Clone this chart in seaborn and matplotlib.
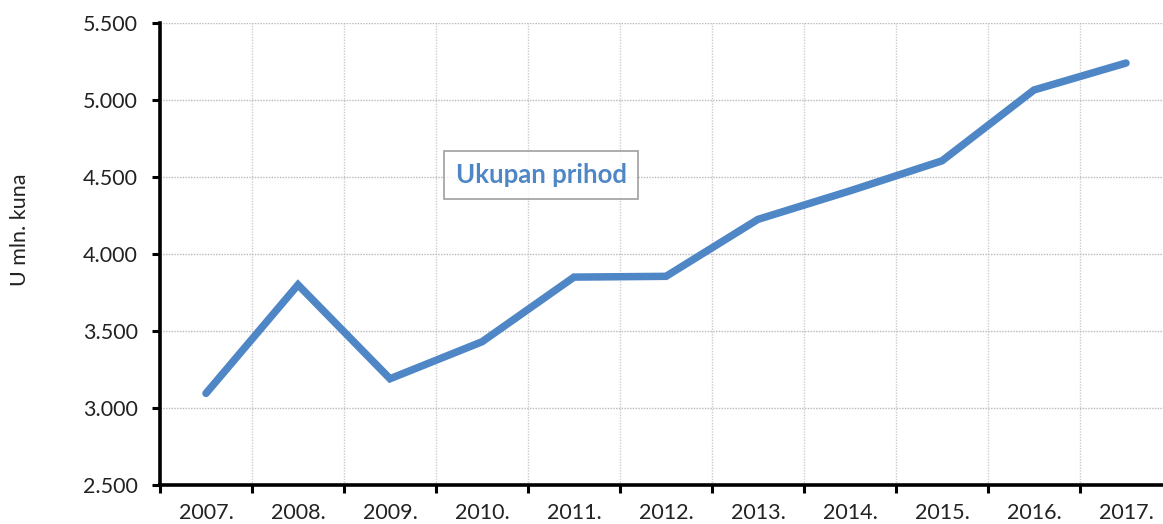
import numpy as np
import pandas as pd
import seaborn as sns
import matplotlib
matplotlib.use("Agg")
import matplotlib.pyplot as plt
from matplotlib.ticker import FuncFormatter, FixedLocator

# data
years = ["2007.", "2008.", "2009.", "2010.", "2011.", "2012.",
         "2013.", "2014.", "2015.", "2016.", "2017."]
prihod = [3095, 3800, 3190, 3430, 3850, 3855, 4225, 4410, 4605, 5065, 5240]
series_name = "Ukupan prihod"
y_label = "U mln. kuna"

line_color = "#4F86C6"

sns.set_theme(style="white")
plt.rcParams["font.family"] = ["Lato", "DejaVu Sans"]

df = pd.DataFrame({"x": np.arange(len(years)), "val": prihod})

fig = plt.figure(figsize=(11.63, 5.24), dpi=100)
ax = fig.add_axes([160 / 1163, 39 / 524, 1012 / 1163, 462 / 524])

sns.lineplot(data=df, x="x", y="val", ax=ax, color=line_color,
             linewidth=5.4, label=series_name, solid_capstyle="round",
             solid_joinstyle="miter")

ax.set_ylim(2500, 5500)
ax.set_xlim(-0.5, len(years) - 0.5)
ax.set_yticks(np.arange(2500, 5501, 500))
ax.yaxis.set_major_formatter(FuncFormatter(lambda v, p: f"{int(v):,}".replace(",", ".")))

# category labels in the middle, tick marks on boundaries
ax.set_xticks(np.arange(len(years)))
ax.set_xticklabels(years)
ax.xaxis.set_minor_locator(FixedLocator(np.arange(-0.5, len(years), 1.0)))
ax.tick_params(axis="x", which="major", length=0, pad=13, labelsize=15.5, colors="#222222")
ax.tick_params(axis="x", which="minor", length=6, width=2.2, color="black", direction="out")
ax.tick_params(axis="y", which="major", length=6, width=2.2, color="black",
               direction="out", pad=10, labelsize=15.5, labelcolor="#222222")
ax.tick_params(bottom=True, left=True, which="both")

ax.grid(False)
ax.grid(axis="y", which="major", color="#b8b8b8", linestyle=(0, (1, 1)), linewidth=1)
ax.grid(axis="x", which="minor", color="#cccccc", linestyle=(0, (1, 1)), linewidth=1)
ax.set_axisbelow(True)

for s in ["top", "right"]:
    ax.spines[s].set_visible(False)
for s in ["left", "bottom"]:
    ax.spines[s].set_color("black")
    ax.spines[s].set_linewidth(2.6)

ax.set_xlabel("")
ax.set_ylabel("")
fig.text(20 / 1163, 1 - 230 / 524, y_label, rotation=90, ha="center", va="center",
         fontsize=15.5, color="#222222")

leg = ax.legend(loc="center", bbox_to_anchor=(541 / 1163, 1 - 175 / 524),
                bbox_transform=fig.transFigure, handlelength=0, handletextpad=0,
                frameon=True, fancybox=False, borderpad=0.45,
                prop={"weight": "bold", "size": 18.5})
leg.get_frame().set_edgecolor("#888888")
leg.get_frame().set_linewidth(1.2)
for t in leg.get_texts():
    t.set_color(line_color)
for h in leg.legend_handles:
    h.set_visible(False)

fig.savefig("out.png", dpi=100)
